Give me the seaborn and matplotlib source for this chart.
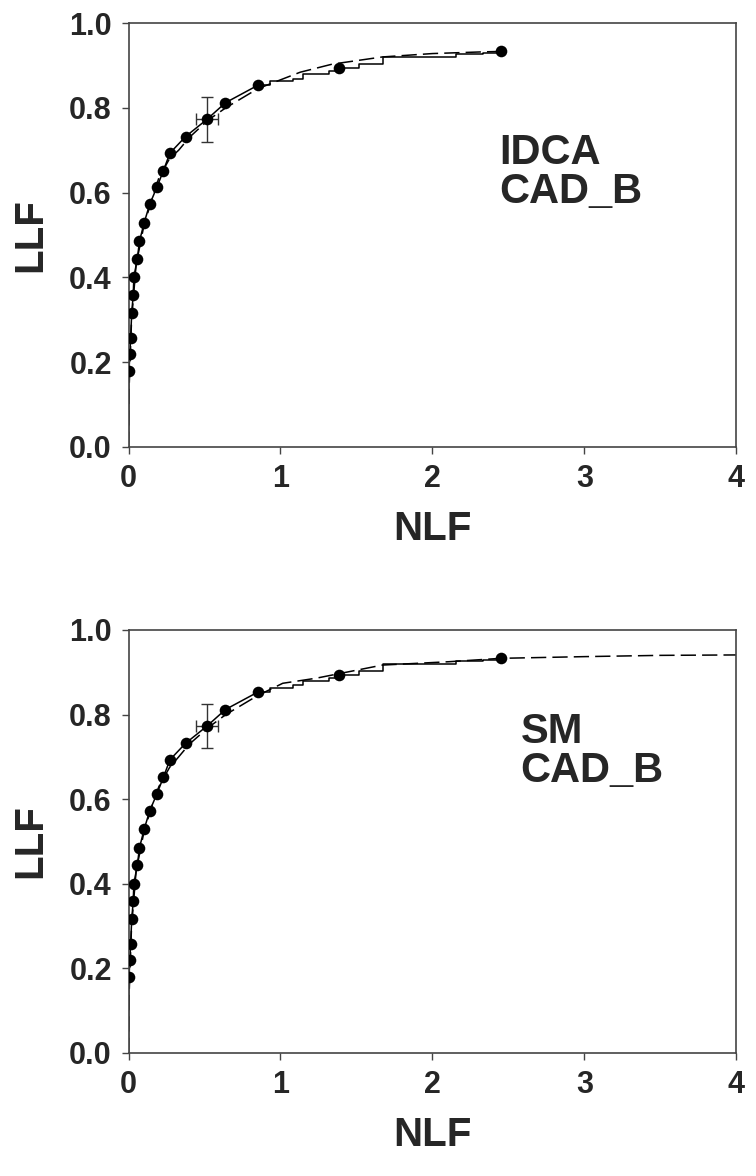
import matplotlib
matplotlib.use("Agg")
import matplotlib.pyplot as plt
import seaborn as sns

# Operating points (same empirical data in both panels)
op_nlf = [0.003, 0.009, 0.014, 0.021, 0.031, 0.035, 0.058, 0.072, 0.103, 0.139,
          0.186, 0.230, 0.272, 0.375, 0.517, 0.638, 0.850, 1.383, 2.450]
op_llf = [0.180, 0.220, 0.258, 0.316, 0.359, 0.400, 0.444, 0.485, 0.529, 0.572,
          0.612, 0.652, 0.693, 0.732, 0.773, 0.812, 0.853, 0.893, 0.933]

# Empirical curve: low part (polyline) and staircase part
emp_low_nlf = [0.0, 0.003] + op_nlf[1:17]
emp_low_llf = [0.0, 0.180] + op_llf[1:17]
emp_step_nlf = [0.850, 0.928, 1.081, 1.147, 1.322, 1.383, 1.520, 1.672, 2.154, 2.330, 2.450]
emp_step_llf = [0.853, 0.863, 0.869, 0.879, 0.887, 0.893, 0.904, 0.920, 0.926, 0.929, 0.933]

# Error bar on one operating point
err_nlf, err_llf = 0.517, 0.773
err_dx, err_dy = 0.07, 0.053

# Fitted curves
idca_nlf = [0, 0.005, 0.02, 0.05, 0.1, 0.15, 0.2, 0.27, 0.33, 0.4, 0.52, 0.64,
            0.85, 1.0, 1.13, 1.34, 1.67, 2.0, 2.33, 2.45]
idca_llf = [0, 0.15, 0.30, 0.43, 0.52, 0.58, 0.635, 0.68, 0.70, 0.73, 0.77, 0.80,
            0.845, 0.866, 0.884, 0.903, 0.920, 0.928, 0.932, 0.933]
sm_nlf = [0, 0.005, 0.02, 0.05, 0.1, 0.15, 0.2, 0.27, 0.33, 0.4, 0.52, 0.64,
          0.85, 1.015, 1.235, 1.67, 2.11, 2.45, 3.0, 3.5, 4.0]
sm_llf = [0, 0.15, 0.30, 0.43, 0.52, 0.58, 0.63, 0.675, 0.70, 0.73, 0.768, 0.80,
          0.845, 0.874, 0.886, 0.917, 0.925, 0.933, 0.937, 0.940, 0.941]

x_ticks = [0, 1, 2, 3, 4]
y_ticks = [0.0, 0.2, 0.4, 0.6, 0.8, 1.0]

sns.set_style("ticks")
plt.rcParams['font.family'] = ['Liberation Sans', 'DejaVu Sans']
plt.rcParams['font.weight'] = 'bold'

fig = plt.figure(figsize=(7.56, 11.76), dpi=100)
ax1 = fig.add_axes([0.170, 0.620, 0.804, 0.3604])
ax2 = fig.add_axes([0.170, 0.1046, 0.804, 0.3597])

panels = [(ax1, idca_nlf, idca_llf, "IDCA\nCAD_B", 2.44, 0.74),
          (ax2, sm_nlf, sm_llf, "SM\nCAD_B", 2.58, 0.805)]

for ax, fx, fy, label, tx, ty in panels:
    sns.lineplot(x=fx, y=fy, ax=ax, sort=False, estimator=None, color='black',
                 linewidth=1.1, dashes=False, linestyle=(0, (10, 4)))
    sns.lineplot(x=emp_low_nlf, y=emp_low_llf, ax=ax, sort=False, estimator=None,
                 color='black', linewidth=1.1)
    sns.lineplot(x=emp_step_nlf, y=emp_step_llf, ax=ax, sort=False, estimator=None,
                 color='black', linewidth=1.1, drawstyle='steps-post')
    ax.errorbar(err_nlf, err_llf, xerr=err_dx, yerr=err_dy, fmt='none',
                ecolor='#333333', elinewidth=1.0, capsize=4.5, capthick=1.0)
    sns.scatterplot(x=op_nlf, y=op_llf, ax=ax, color='black', s=70,
                    edgecolor='black', linewidth=0, zorder=5)
    ax.text(tx, ty, label, fontsize=30, fontweight='bold', ha='left', va='top',
            linespacing=0.95)

    ax.set_xlim(0, 4)
    ax.set_ylim(0, 1.0)
    ax.set_xticks(x_ticks)
    ax.set_xticklabels([str(t) for t in x_ticks])
    ax.set_yticks(y_ticks)
    ax.set_yticklabels([f"{t:.1f}" for t in y_ticks])
    ax.tick_params(direction='out', length=5, width=1, color='#444444',
                   labelsize=22, pad=7)
    for lab in ax.get_xticklabels() + ax.get_yticklabels():
        lab.set_fontweight('bold')
    for sp in ax.spines.values():
        sp.set_visible(True)
        sp.set_color('#444444')
        sp.set_linewidth(1.2)
    ax.set_xlabel('NLF', fontsize=29, fontweight='bold', labelpad=12)
    ax.set_ylabel('LLF', fontsize=29, fontweight='bold', labelpad=14)

fig.savefig("out.png", dpi=100)
